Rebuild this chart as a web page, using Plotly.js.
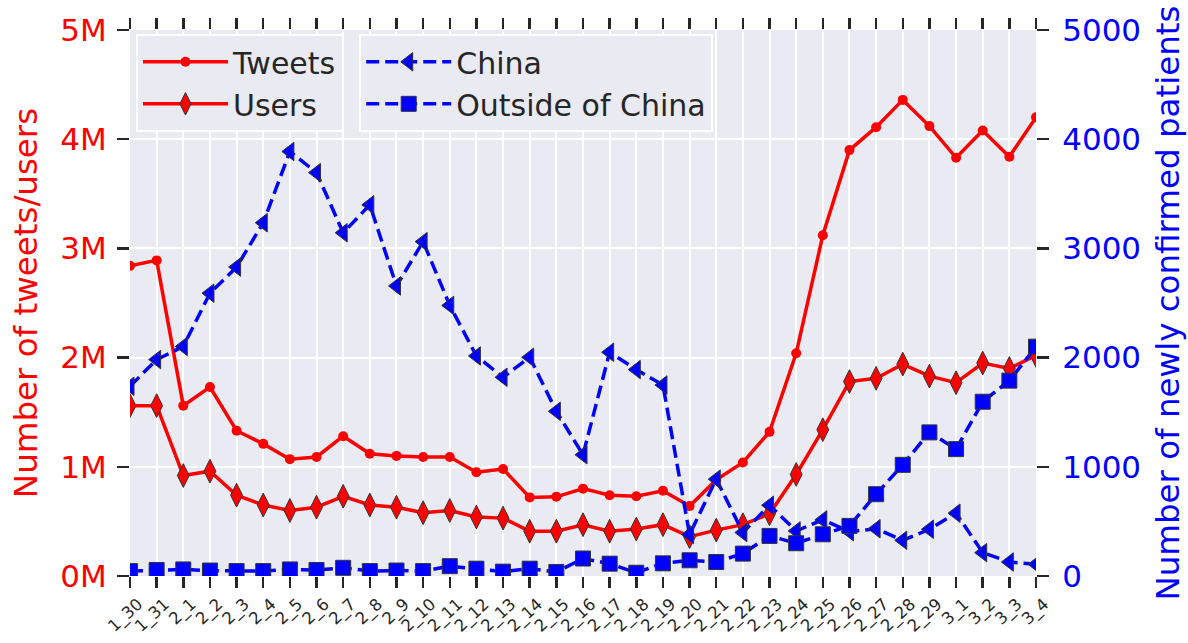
<!DOCTYPE html>
<html>
<head>
<meta charset="utf-8">
<script src="https://cdn.plot.ly/plotly-3.0.1.min.js"></script>
<style>html,body{margin:0;padding:0;background:#fff}#chart{width:1188px;height:643px}</style>
</head>
<body>
<div id="chart"></div>
<script>
const dates = ['1_30','1_31','2_1','2_2','2_3','2_4','2_5','2_6','2_7','2_8','2_9','2_10','2_11','2_12','2_13','2_14','2_15','2_16','2_17','2_18','2_19','2_20','2_21','2_22','2_23','2_24','2_25','2_26','2_27','2_28','2_29','3_1','3_2','3_3','3_4'];
// millions
const tweets = [2.84,2.89,1.56,1.73,1.33,1.21,1.07,1.09,1.28,1.12,1.10,1.09,1.09,0.95,0.98,0.72,0.725,0.80,0.74,0.73,0.78,0.64,0.88,1.04,1.32,2.04,3.12,3.90,4.11,4.36,4.12,3.83,4.08,3.84,4.20];
const users = [1.56,1.56,0.92,0.96,0.74,0.65,0.60,0.63,0.73,0.65,0.63,0.58,0.60,0.54,0.53,0.41,0.41,0.47,0.41,0.43,0.47,0.36,0.42,0.47,0.57,0.93,1.34,1.78,1.81,1.94,1.83,1.77,1.95,1.90,2.02];
const china = [1737,1982,2102,2590,2829,3235,3887,3694,3143,3399,2656,3062,2478,2015,1820,2003,1508,1110,2049,1890,1749,380,887,398,648,413,514,406,433,327,428,575,214,128,107];
const outside = [45,55,60,50,45,45,60,55,75,45,50,45,90,67,40,67,37,160,113,30,116,144,128,205,367,300,382,459,749,1018,1315,1162,1596,1789,2100];
const leftTicks = [0,1,2,3,4,5];
const leftTickText = ['0M','1M','2M','3M','4M','5M'];
const rightTicks = [0,1000,2000,3000,4000,5000];

const FONT = 'DejaVu Sans, sans-serif';
const edge = {color:'#333333', width:1};

const traces = [
  {x:dates, y:tweets, name:'Tweets', type:'scatter', mode:'lines+markers',
   line:{color:'#ff0000', width:3.5}, marker:{symbol:'circle', size:10, color:'#ff0000'}, legend:'legend'},
  {x:dates, y:users, name:'Users', type:'scatter', mode:'lines+markers',
   line:{color:'#ff0000', width:3.5}, marker:{symbol:'diamond-tall', size:17, color:'#ff0000', line:edge}, legend:'legend'},
  {x:dates, y:china, name:'China', type:'scatter', mode:'lines+markers', yaxis:'y2',
   line:{color:'#0000ff', width:3.5, dash:'13px,6px'}, marker:{symbol:'triangle-left', size:16, color:'#0000ff', line:edge}, legend:'legend2'},
  {x:dates, y:outside, name:'Outside of China', type:'scatter', mode:'lines+markers', yaxis:'y2',
   line:{color:'#0000ff', width:3.5, dash:'13px,6px'}, marker:{symbol:'square', size:15, color:'#0000ff', line:edge}, legend:'legend2'}
];

const layout = {
  width:1188, height:643,
  margin:{l:130, r:152, t:30, b:67},
  paper_bgcolor:'#ffffff', plot_bgcolor:'#EAEAF2',
  font:{family:FONT, color:'#262626'},
  showlegend:true,
  xaxis:{type:'category', range:[0, dates.length-1], tickmode:'array', tickvals:dates, ticktext:dates,
    tickangle:-43, tickfont:{size:16.5, color:'#262626'}, ticklabelshift:8, showgrid:true, gridcolor:'#ffffff', gridwidth:2,
    ticks:'outside', ticklen:11, tickwidth:2.5, tickcolor:'#262626', mirror:'ticks', zeroline:false, showline:false},
  yaxis:{range:[0,5], tickmode:'array', tickvals:leftTicks, ticktext:leftTickText, tickfont:{size:31, color:'#ff0000'}, ticklabelstandoff:4,
    showgrid:true, gridcolor:'#ffffff', gridwidth:2, zeroline:false, ticks:'outside', ticklen:12, tickwidth:2.5, tickcolor:'#262626',
    title:{text:'Number of tweets/users', font:{size:32.5, color:'#ff0000'}, standoff:12}},
  yaxis2:{range:[0,5000], overlaying:'y', side:'right', tickmode:'array', tickvals:rightTicks, tickfont:{size:31, color:'#0000ff'}, ticklabelstandoff:7,
    showgrid:false, zeroline:false, ticks:'outside', ticklen:12, tickwidth:2.5, tickcolor:'#262626',
    title:{text:'Number of newly confirmed patients', font:{size:32.5, color:'#0000ff'}, standoff:16}},
  legend:{x:0.0066, y:0.993, xanchor:'left', yanchor:'top', bgcolor:'#EAEAF2', bordercolor:'#ffffff', borderwidth:2,
    font:{size:30, color:'#262626', family:FONT}, itemwidth:85, traceorder:'normal'},
  legend2:{x:0.253, y:0.993, xanchor:'left', yanchor:'top', bgcolor:'#EAEAF2', bordercolor:'#ffffff', borderwidth:2,
    font:{size:30, color:'#262626', family:FONT}, itemwidth:85, traceorder:'normal'}
};

Plotly.newPlot('chart', traces, layout, {displayModeBar:false, staticPlot:true});
</script>
</body>
</html>
